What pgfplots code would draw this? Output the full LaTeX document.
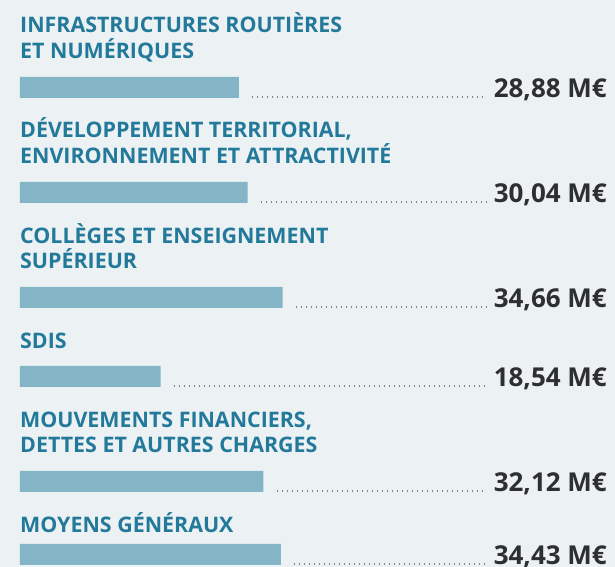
\documentclass[border=0pt]{standalone}
\usepackage{fontspec}
\setmainfont{Open Sans}
\usepackage{pgfplots}
\usepackage{pgfplotstable}
\pgfplotsset{compat=1.18}
\usetikzlibrary{backgrounds}

\definecolor{bgc}{HTML}{ECF1F4}
\definecolor{barc}{HTML}{84B5C7}
\definecolor{titlec}{HTML}{23799A}
\definecolor{valc}{HTML}{2D2F33}
\definecolor{dotc}{HTML}{7F8489}

% y = bar centre (pixels from top), value in M€
\pgfplotstableread{
y value
87.5 28.88
192.5 30.04
297.5 34.66
376.5 18.54
481.5 32.12
554.5 34.43
}\budget

\newcommand{\ttl}[2]{\node[anchor=base west,inner sep=0pt,text=titlec,font=\fontsize{21.4}{26}\selectfont\bfseries] at (axis cs:0,#1) {#2};}
\newcommand{\val}[2]{\node[anchor=base east,inner sep=0pt,text=valc,font=\fontsize{26}{30}\selectfont\bfseries] at (axis cs:77.44,#1) {#2};}
\newcommand{\leader}[2]{\draw[dotc,line width=1.2pt,dash pattern=on 1.2pt off 3.8pt] (axis cs:{#1+1.72},#2) -- (axis cs:61.5,#2);}

\begin{document}
\begin{tikzpicture}[show background rectangle,
  background rectangle/.style={fill=bgc,draw=none},
  inner frame sep=0pt]
\begin{axis}[
  name=ax,
  at={(0,0)}, anchor=south west,
  scale only axis,
  width=615pt, height=567pt,
  xmin=-2.638, xmax=78.496,
  ymin=0, ymax=567,
  y dir=reverse,
  hide axis,
  clip=false,
]
\addplot[xbar, fill=barc, draw=none, bar width=21] table[x=value,y=y]{\budget};

\ttl{33}{INFRASTRUCTURES ROUTIÈRES}
\ttl{59}{ET NUMÉRIQUES}
\ttl{138}{DÉVELOPPEMENT TERRITORIAL,}
\ttl{164}{ENVIRONNEMENT ET ATTRACTIVITÉ}
\ttl{244}{COLLÈGES ET ENSEIGNEMENT}
\ttl{269}{SUPÉRIEUR}
\ttl{349}{SDIS}
\ttl{428}{MOUVEMENTS FINANCIERS,}
\ttl{453}{DETTES ET AUTRES CHARGES}
\ttl{533}{MOYENS GÉNÉRAUX}

\leader{28.88}{97}
\leader{30.04}{202}
\leader{34.66}{307}
\leader{18.54}{386}
\leader{32.12}{491}
\leader{34.43}{564}

\val{98}{28,88 M€}
\val{203}{30,04 M€}
\val{308}{34,66 M€}
\val{387}{18,54 M€}
\val{492}{32,12 M€}
\val{565}{34,43 M€}
\end{axis}
\pgfresetboundingbox
\path[use as bounding box] (ax.south west) rectangle (ax.north east);
\end{tikzpicture}
\end{document}
